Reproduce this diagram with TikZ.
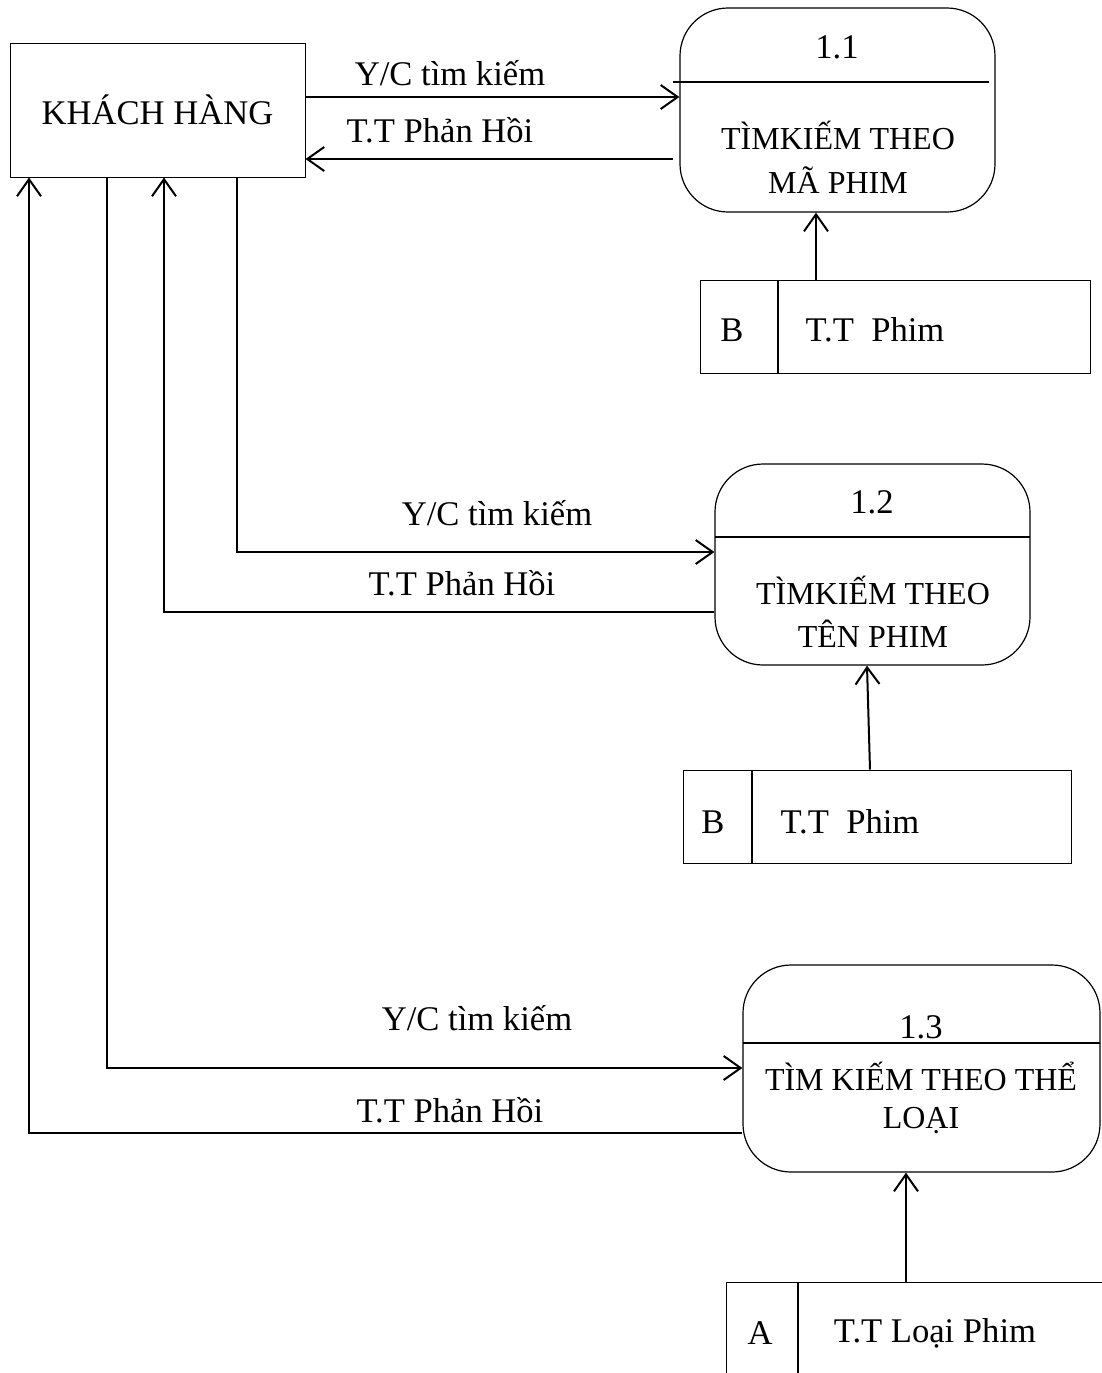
\documentclass[tikz,border=0pt]{standalone}
\usepackage{fontspec}
\setmainfont{Liberation Serif}
\usetikzlibrary{arrows.meta}
\begin{document}
\begin{tikzpicture}[x=0.5pt,y=-0.5pt,
  every node/.style={font=\fontsize{17.3}{20}\selectfont, inner sep=0pt},
  ptext/.style={font=\fontsize{16}{19}\selectfont},
  entity/.style={draw, line width=0.5pt, minimum width=147.5pt, minimum height=67pt},
  proc/.style={draw, line width=0.6pt, rounded corners=24pt},
  storebox/.style={draw, line width=0.5pt, minimum height=46.5pt},
  flow/.style={line width=1pt, -{Straight Barb[length=8.5pt,width=12pt,line width=1pt]}},
  link/.style={line width=1pt}]
\useasboundingbox (0,0) rectangle (1102,1373);

% external entity
\node[entity] (kh) at (157.5,110) {KHÁCH HÀNG};

% processes
\node[proc, minimum width=157.5pt, minimum height=102pt] (p1) at (837.5,110) {};
\node[proc, minimum width=157.5pt, minimum height=100.5pt] (p2) at (872.5,564.5) {};
\node[proc, minimum width=178.5pt, minimum height=103.5pt] (p3) at (921.5,1068.5) {};

\draw[link] (673,82) -- (989,82);
\draw[link] (715,537) -- (1030,537);
\draw[link] (743,1043) -- (1100,1043);

\node (n1) at (837,47) {1.1};
\node[ptext] (t1a) at (838,135) {TÌMKIẾM THEO};
\node[ptext] (t1b) at (838,180) {MÃ PHIM};
\node (n2) at (872,502) {1.2};
\node[ptext] (t2a) at (873,590) {TÌMKIẾM THEO};
\node[ptext] (t2b) at (873,634) {TÊN PHIM};
\node (n3) at (921,1027) {1.3};
\node[ptext] (t3a) at (921,1076) {TÌM KIẾM THEO THỂ};
\node[ptext] (t3b) at (921,1121) {LOẠI};

% data stores
\node[storebox, minimum width=195pt] (s1) at (895,326.5) {};
\draw[line width=0.8pt] (778,280) -- (778,373);
\node (s1a) at (732,330) {B};
\node (s1b) at (875,330) {T.T\ \ Phim};

\node[storebox, minimum width=194pt] (s2) at (877,816.5) {};
\draw[line width=0.8pt] (752,770) -- (752,863);
\node (s2a) at (713,822) {B};
\node (s2b) at (850,822) {T.T\ \ Phim};

\coordinate (s3tl) at (726,1282);
\draw[line width=0.5pt] (726,1373) -- (s3tl) -- (1102,1282);
\draw[line width=0.8pt] (798,1282) -- (798,1373);
\node (s3a) at (760,1333) {A};
\node (s3b) at (935,1333) {T.T Loại Phim};
\coordinate (s3top) at (906,1282);

% flows 1.1
\draw[flow] (kh.east |- 0,97) -- (p1.west |- 0,97);
\node (l1) at (450,73) {Y/C tìm kiếm};
\draw[flow] (673,159) -- (kh.east |- 0,159);
\node (l2) at (440,130) {T.T Phản Hồi};
\draw[flow] (s1.north -| 816,0) -- (p1.south -| 816,0);

% flows 1.2
\draw[flow] (kh.south -| 237,0) -- (237,552) -- (p2.west |- 0,552);
\node (l3) at (497,513) {Y/C tìm kiếm};
\draw[flow] (p2.west |- 0,612) -- (164,612) -- (kh.south -| 164,0);
\node (l4) at (462,583) {T.T Phản Hồi};
\draw[flow] (s2.north -| 870,0) -- (p2.south -| 867,0);

% flows 1.3
\draw[flow] (kh.south -| 107,0) -- (107,1068) -- (p3.west |- 0,1068);
\node (l5) at (477,1018) {Y/C tìm kiếm};
\draw[flow] (p3.west |- 0,1133) -- (29,1133) -- (kh.south -| 29,0);
\node (l6) at (450,1110) {T.T Phản Hồi};
\draw[flow] (s3top) -- (p3.south -| s3top);
\end{tikzpicture}
\end{document}
